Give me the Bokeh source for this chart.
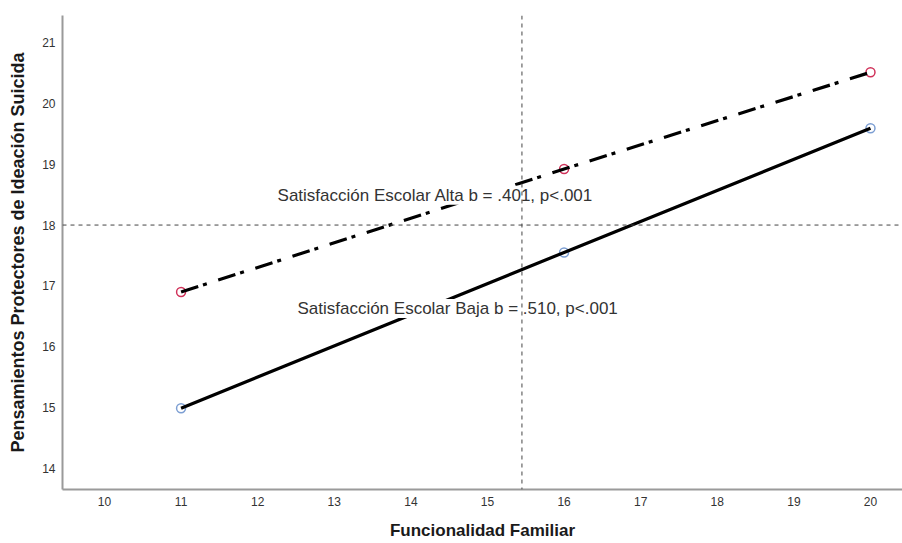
from bokeh.plotting import figure
from bokeh.models import Label, Span, Range1d, FixedTicker, ColumnDataSource
from bokeh.embed import file_html
from bokeh.resources import INLINE

# ---- data ----
func_familiar = [11, 16, 20]
alta_vals = [16.90, 18.92, 20.51]
baja_vals = [14.99, 17.55, 19.59]
x_ticks = [10, 11, 12, 13, 14, 15, 16, 17, 18, 19, 20]
y_ticks = [14, 15, 16, 17, 18, 19, 20, 21]
mean_x = 15.45
mean_y = 18.0
label_alta = "Satisfacción Escolar Alta b = .401, p<.001"
label_baja = "Satisfacción Escolar Baja b = .510, p<.001"
x_title = "Funcionalidad Familiar"
y_title = "Pensamientos Protectores de Ideación Suicida"

FONT = "Liberation Sans"

p = figure(width=902, height=543, output_backend="svg", toolbar_location=None,
           x_range=Range1d(9.452, 20.418), y_range=Range1d(13.655, 21.443),
           min_border_left=62, min_border_top=15, min_border_right=0,
           min_border_bottom=54)
p.outline_line_color = None
p.xgrid.visible = False
p.ygrid.visible = False
p.background_fill_color = "white"
p.border_fill_color = "white"

for ax in (p.xaxis[0], p.yaxis[0]):
    ax.axis_line_color = "#9a9a9a"
    ax.axis_line_width = 2
    ax.major_tick_out = 0
    ax.major_tick_in = 0
    ax.minor_tick_out = 0
    ax.minor_tick_in = 0
    ax.major_label_text_font = FONT
    ax.major_label_text_font_size = "12px"
    ax.major_label_text_color = "#333333"
    ax.axis_label_text_font = FONT
    ax.axis_label_text_font_style = "bold"
    ax.axis_label_text_color = "#1a1a1a"

p.xaxis[0].ticker = FixedTicker(ticks=x_ticks)
p.yaxis[0].ticker = FixedTicker(ticks=y_ticks)
p.xaxis[0].axis_label = x_title
p.yaxis[0].axis_label = y_title
p.xaxis[0].axis_label_text_font_size = "17px"
p.yaxis[0].axis_label_text_font_size = "18px"
p.xaxis[0].major_label_standoff = 7
p.yaxis[0].major_label_standoff = 7
p.xaxis[0].axis_label_standoff = 12
p.yaxis[0].axis_label_standoff = 11

src = ColumnDataSource(dict(x=func_familiar, alta=alta_vals, baja=baja_vals))

# markers first (lines drawn over them)
p.scatter("x", "alta", source=src, size=9, marker="circle", fill_color="white",
          fill_alpha=0.0, line_color="#d0325a", line_width=1.5)
p.scatter("x", "baja", source=src, size=9, marker="circle", fill_color="white",
          fill_alpha=0.0, line_color="#7d9fd3", line_width=1.5)

p.line("x", "alta", source=src, line_color="black", line_width=3.2,
       line_dash="18 5 4 12")
p.line("x", "baja", source=src, line_color="black", line_width=3.2)

lab1 = Label(x=14.32, y=18.49, text=label_alta, text_align="center",
             text_baseline="middle", text_font=FONT, text_font_size="17px",
             text_color="#333333", background_fill_color="white",
             background_fill_alpha=1.0)
lab2 = Label(x=14.61, y=16.63, text=label_baja, text_align="center",
             text_baseline="middle", text_font=FONT, text_font_size="17px",
             text_color="#333333", background_fill_color="white",
             background_fill_alpha=1.0)
p.add_layout(lab1)
p.add_layout(lab2)

p.add_layout(Span(location=mean_x, dimension="height", line_color="#444444",
                  line_width=1, line_dash="4 4"))
p.add_layout(Span(location=mean_y, dimension="width", line_color="#444444",
                  line_width=1, line_dash="4 4"))

open("out.html", "w").write(file_html(p, INLINE))
